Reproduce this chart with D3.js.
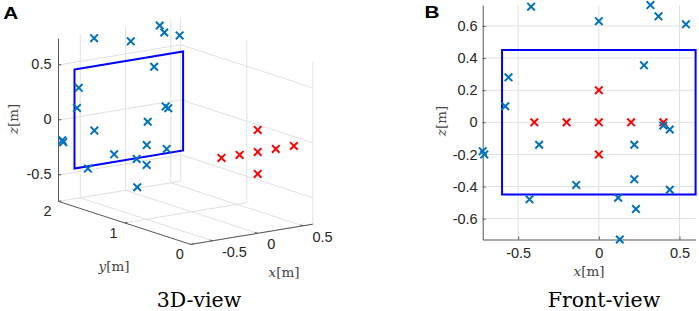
<!DOCTYPE html>
<html><head><meta charset="utf-8">
<script src="https://cdn.jsdelivr.net/npm/d3@7"></script>
<style>body{margin:0;background:#fff}svg{display:block}</style>
</head><body>
<svg id="c" width="699" height="311"></svg>
<script>
// ---------- data ----------
const blueX = [-0.42, 0.00, 0.32, 0.37, 0.54, 0.28, -0.56, -0.58, 0.40, 0.44, -0.37, 0.22, -0.72, -0.71, -0.43, -0.14, 0.22, 0.12, 0.23, 0.44, 0.13];
const blueZ = [0.72, 0.63, 0.73, 0.66, 0.61, 0.355, 0.28, 0.10, -0.02, -0.045, -0.14, -0.14, -0.18, -0.20, -0.48, -0.39, -0.355, -0.47, -0.54, -0.42, -0.73];
const blueY = [1.90, 1.92, 1.92, 1.92, 1.92, 1.95, 1.94, 1.94, 1.94, 1.955, 1.965, 1.965, 1.97, 1.97, 1.98, 1.98, 1.98, 1.995, 1.995, 1.98, 2.0];
const redX = [-0.4, -0.2, 0, 0.2, 0.4, 0, 0];
const redZ = [0, 0, 0, 0, 0, 0.2, -0.2];
const redY = [0, 0, 0, 0, 0, 0, 0];
const rectX = [-0.6, 0.6, 0.6, -0.6];
const rectZ = [0.45, 0.45, -0.45, -0.45];
const rectY = [1.95, 1.95, 1.95, 1.95];
const frontXTicks = [-0.5, 0, 0.5];
const frontZTicks = [-0.6, -0.4, -0.2, 0, 0.2, 0.4, 0.6];
const x3Ticks = [-0.5, 0, 0.5];
const y3Ticks = [0, 1, 2];
const z3Ticks = [-0.5, 0, 0.5];
const frontXDomain = [-0.72, 0.6], frontZDomain = [-0.73, 0.73];
const x3Domain = [-0.74, 0.61], y3Domain = [0, 2], z3Domain = [-0.74, 0.74];

const BLUE = "#0072BD", RED = "#FF0000", RECT = "#0000FF", GRID = "#e0e0e0", AX = "#555";
const svg = d3.select("#c");
const TICKFONT = "Liberation Sans, Arial, sans-serif";
const SERIF = "DejaVu Serif, serif";
const cross = "M-3.8,-3.8L3.8,3.8M-3.8,3.8L3.8,-3.8";
const MW = 2;

// ---------- Panel A : 3D ----------
const O = [257.7, 151.9];
const sxX = d3.scaleLinear().domain([0, 1]).range([0, 90.5]);
const syX = d3.scaleLinear().domain([0, 1]).range([0, -15]);
const sxY = d3.scaleLinear().domain([0, 1]).range([0, -66.1]);
const syY = d3.scaleLinear().domain([0, 1]).range([0, -21.5]);
const syZ = d3.scaleLinear().domain([0, 1]).range([0, -110]);
function proj(x, y, z) { return [O[0] + sxX(x) + sxY(y), O[1] + syX(x) + syY(y) + syZ(z)]; }
const [xmin, xmax] = x3Domain, [ymin, ymax] = y3Domain, [zmin, zmax] = z3Domain;
const gA = svg.append("g");
const seg = (a, b, col, w) => gA.append("line")
  .attr("x1", a[0]).attr("y1", a[1]).attr("x2", b[0]).attr("y2", b[1])
  .attr("stroke", col).attr("stroke-width", w);
// grid
x3Ticks.forEach(x => { seg(proj(x, ymax, zmin), proj(x, ymax, zmax), GRID, 1); seg(proj(x, ymin, zmin), proj(x, ymax, zmin), GRID, 1); });
z3Ticks.forEach(z => { seg(proj(xmin, ymax, z), proj(xmax, ymax, z), GRID, 1); seg(proj(xmax, ymin, z), proj(xmax, ymax, z), GRID, 1); });
y3Ticks.forEach(y => { seg(proj(xmax, y, zmin), proj(xmax, y, zmax), GRID, 1); seg(proj(xmin, y, zmin), proj(xmax, y, zmin), GRID, 1); });
// axes
seg(proj(xmin, ymin, zmin), proj(xmax, ymin, zmin), AX, 1);
seg(proj(xmin, ymin, zmin), proj(xmin, ymax, zmin), AX, 1);
seg(proj(xmin, ymax, zmin), proj(xmin, ymax, zmax), AX, 1);
// ticks + labels
z3Ticks.forEach(z => {
  const p = proj(xmin, ymax, z);
  seg(p, proj(xmin + 0.03, ymax, z), AX, 1);
  gA.append("text").attr("x", p[0] - 7).attr("y", p[1] - 1.5).attr("text-anchor", "end")
    .attr("dominant-baseline", "central").attr("font-family", TICKFONT).attr("font-size", 14.5)
    .attr("fill", "#262626").text(String(z));
});
y3Ticks.forEach(y => {
  const p = proj(xmin, y, zmin);
  seg(p, proj(xmin + 0.03, y, zmin), AX, 1);
  gA.append("text").attr("x", p[0] - 7).attr("y", p[1] + 10).attr("text-anchor", "end")
    .attr("dominant-baseline", "central").attr("font-family", TICKFONT).attr("font-size", 14.5)
    .attr("fill", "#262626").text(String(y));
});
x3Ticks.forEach(x => {
  const p = proj(x, ymin, zmin);
  seg(p, proj(x, ymin + 0.04, zmin), AX, 1);
  gA.append("text").attr("x", p[0] + 9.5).attr("y", p[1] + 10.8).attr("text-anchor", "start")
    .attr("dominant-baseline", "central").attr("font-family", TICKFONT).attr("font-size", 14.5)
    .attr("fill", "#262626").text(String(x));
});
// rectangle
const rectPts = rectX.map((x, i) => proj(x, rectY[i], rectZ[i]));
gA.append("path").attr("d", d3.line()(rectPts) + "Z").attr("fill", "none").attr("stroke", RECT).attr("stroke-width", 2);
// markers
blueX.forEach((x, i) => { const p = proj(x, blueY[i], blueZ[i]);
  gA.append("path").attr("d", cross).attr("transform", `translate(${p[0]},${p[1]})`).attr("stroke", BLUE).attr("stroke-width", MW).attr("fill", "none"); });
redX.forEach((x, i) => { const p = proj(x, redY[i], redZ[i]);
  gA.append("path").attr("d", cross).attr("transform", `translate(${p[0]},${p[1]})`).attr("stroke", RED).attr("stroke-width", MW).attr("fill", "none"); });

function axLabel(g, x, y, letter, rot) {
  const t = g.append("text").attr("x", x).attr("y", y).attr("text-anchor", "middle")
    .attr("dominant-baseline", "central").attr("font-family", SERIF).attr("font-size", 13.5).attr("fill", "#444");
  if (rot) t.attr("transform", `rotate(-90,${x},${y})`);
  t.append("tspan").attr("font-style", "italic").text(letter);
  t.append("tspan").text("[m]");
}
axLabel(gA, 13, 119, "z", true);
axLabel(gA, 114, 265.5, "y", false);
axLabel(gA, 284, 271.5, "x", false);
gA.append("text").attr("x", 199).attr("y", 306.5).attr("text-anchor", "middle").attr("font-family", SERIF)
  .attr("font-size", 20.5).attr("fill", "#000").text("3D-view");
svg.append("text").attr("x", 3.3).attr("y", 18.6).attr("font-family", TICKFONT).attr("font-weight", "bold")
  .attr("font-size", 17).attr("textLength", 15).attr("lengthAdjust", "spacingAndGlyphs").attr("fill", "#000").text("A");

// ---------- Panel B : front view ----------
const gB = svg.append("g");
const xS = d3.scaleLinear().domain(frontXDomain).range([482.7, 695.6]);
const zS = d3.scaleLinear().domain(frontZDomain).range([239.5, 5.1]);
// grid
frontXTicks.forEach(v => gB.append("line").attr("x1", xS(v)).attr("x2", xS(v)).attr("y1", zS.range()[0]).attr("y2", zS.range()[1]).attr("stroke", GRID));
frontZTicks.forEach(v => gB.append("line").attr("y1", zS(v)).attr("y2", zS(v)).attr("x1", xS.range()[0]).attr("x2", xS.range()[1]).attr("stroke", GRID));
const axL = gB.append("g").attr("transform", `translate(${xS.range()[0]},0)`)
  .call(d3.axisLeft(zS).tickValues(frontZTicks).tickSize(-3).tickSizeOuter(0).tickPadding(5).tickFormat(String));
const axB = gB.append("g").attr("transform", `translate(0,${zS.range()[0]})`)
  .call(d3.axisBottom(xS).tickValues(frontXTicks).tickSize(-3).tickSizeOuter(0).tickPadding(8.5).tickFormat(String));
[axL, axB].forEach(a => {
  a.selectAll("path,line").attr("stroke", AX);
  a.selectAll("text").attr("font-family", TICKFONT).attr("font-size", 14.5).attr("fill", "#262626");
});
gB.append("path").attr("d", d3.line()(rectX.map((x, i) => [xS(x), zS(rectZ[i])])) + "Z")
  .attr("fill", "none").attr("stroke", RECT).attr("stroke-width", 2);
redX.forEach((x, i) => gB.append("path").attr("d", cross).attr("transform", `translate(${xS(x)},${zS(redZ[i])})`)
  .attr("stroke", RED).attr("stroke-width", MW).attr("fill", "none"));
blueX.forEach((x, i) => gB.append("path").attr("d", cross).attr("transform", `translate(${xS(x)},${zS(blueZ[i])})`)
  .attr("stroke", BLUE).attr("stroke-width", MW).attr("fill", "none"));
axLabel(gB, 441, 121, "z", true);
axLabel(gB, 589, 271, "x", false);
gB.append("text").attr("x", 604).attr("y", 306.5).attr("text-anchor", "middle").attr("font-family", SERIF)
  .attr("font-size", 20.5).attr("fill", "#000").text("Front-view");
svg.append("text").attr("x", 424.5).attr("y", 17.6).attr("font-family", TICKFONT).attr("font-weight", "bold")
  .attr("font-size", 17).attr("textLength", 15).attr("lengthAdjust", "spacingAndGlyphs").attr("fill", "#000").text("B");
</script>
</body></html>
